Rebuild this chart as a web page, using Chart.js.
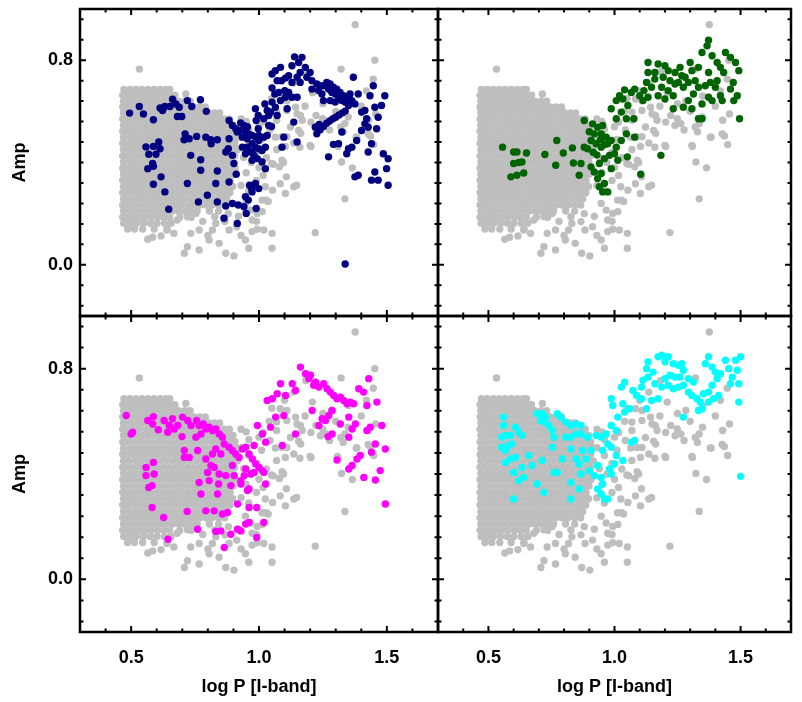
<!DOCTYPE html>
<html>
<head>
<meta charset="utf-8">
<script src="https://cdn.jsdelivr.net/npm/chart.js@4.4.0/dist/chart.umd.min.js"></script>
<style>
  body { margin: 0; background: #ffffff; }
  #wrap { position: relative; width: 802px; height: 702px; }
  #wrap canvas { position: absolute; left: 0; top: 0; }
</style>
</head>
<body>
<div id="wrap">
  <canvas id="panelTL" width="802" height="702"></canvas>
  <canvas id="panelTR" width="802" height="702"></canvas>
  <canvas id="panelBL" width="802" height="702"></canvas>
  <canvas id="panelBR" width="802" height="702"></canvas>
</div>
<script>
// Axis ticks
const xTicksMajor = [0.5, 1.0, 1.5];
const xTicksAll = [0.4, 0.5, 0.6, 0.7, 0.8, 0.9, 1.0, 1.1, 1.2, 1.3, 1.4, 1.5, 1.6];
const yTicksMajor = [0.0, 0.8];
const yTicksAll = [-0.16, -0.08, 0.0, 0.08, 0.16, 0.24, 0.32, 0.40, 0.48, 0.56, 0.64, 0.72, 0.80, 0.88, 0.96];

// All stars (grey), dense part as rows: [amp, [logP values]]
const grayRows = [
    [0.686, [0.472,0.495,0.519,0.543,0.566,0.590,0.614,0.637,0.651]],
    [0.663, [0.467,0.484,0.508,0.531,0.556,0.579,0.602,0.627,0.650,0.671]],
    [0.640, [0.470,0.495,0.518,0.543,0.567,0.591,0.613,0.638,0.661,0.684,0.709,0.731]],
    [0.617, [0.467,0.483,0.507,0.532,0.555,0.578,0.603,0.626,0.650,0.674,0.697,0.720,0.745,0.768,0.790]],
    [0.594, [0.470,0.495,0.519,0.542,0.567,0.590,0.615,0.638,0.661,0.686,0.709,0.733,0.756,0.781,0.803,0.826,0.846]],
    [0.570, [0.467,0.483,0.507,0.531,0.556,0.579,0.602,0.627,0.650,0.673,0.698,0.721,0.745,0.768,0.793,0.816,0.839,0.863,0.884]],
    [0.546, [0.470,0.494,0.519,0.543,0.566,0.591,0.614,0.638,0.662,0.685,0.710,0.733,0.756,0.781,0.804,0.828,0.851,0.876,0.898]],
    [0.522, [0.467,0.483,0.507,0.532,0.555,0.579,0.603,0.626,0.651,0.674,0.697,0.722,0.745,0.769,0.792,0.817,0.840,0.864,0.887,0.906]],
    [0.498, [0.470,0.495,0.518,0.543,0.567,0.590,0.614,0.639,0.662,0.686,0.709,0.733,0.757,0.780,0.805,0.828,0.852,0.875,0.899,0.915]],
    [0.474, [0.467,0.483,0.508,0.531,0.555,0.579,0.602,0.627,0.650,0.674,0.698,0.721,0.746,0.769,0.792,0.816,0.840,0.865,0.887,0.906]],
    [0.450, [0.470,0.494,0.519,0.542,0.567,0.591,0.614,0.638,0.663,0.686,0.709,0.734,0.757,0.781,0.804,0.828,0.852,0.875,0.899,0.916]],
    [0.426, [0.467,0.483,0.507,0.531,0.556,0.579,0.603,0.626,0.650,0.675,0.697,0.721,0.745,0.770,0.793,0.816,0.841,0.864,0.888,0.905]],
    [0.402, [0.470,0.495,0.518,0.543,0.566,0.590,0.615,0.638,0.662,0.686,0.710,0.733,0.757,0.780,0.804,0.829,0.852,0.876,0.898]],
    [0.378, [0.467,0.484,0.507,0.532,0.555,0.579,0.602,0.627,0.650,0.674,0.698,0.722,0.745,0.769,0.793,0.816,0.840,0.864,0.887,0.907]],
    [0.354, [0.470,0.494,0.519,0.543,0.567,0.591,0.614,0.638,0.661,0.686,0.709,0.733,0.757,0.781,0.804,0.828,0.851,0.876,0.899]],
    [0.330, [0.467,0.483,0.507,0.531,0.556,0.578,0.603,0.627,0.650,0.674,0.697,0.721,0.746,0.769,0.792,0.817,0.840,0.863,0.887]],
    [0.306, [0.470,0.495,0.518,0.542,0.567,0.590,0.614,0.639,0.662,0.685,0.710,0.733,0.756,0.781,0.805,0.828,0.852,0.875,0.897]],
    [0.282, [0.467,0.483,0.508,0.531,0.555,0.579,0.602,0.626,0.651,0.674,0.698,0.721,0.745,0.770,0.793,0.816,0.841,0.864,0.886]],
    [0.258, [0.470,0.494,0.519,0.543,0.566,0.591,0.615,0.638,0.662,0.686,0.709,0.734,0.757,0.780,0.804,0.829,0.852,0.874]],
    [0.234, [0.467,0.484,0.507,0.532,0.556,0.579,0.603,0.627,0.650,0.674,0.697,0.722,0.745,0.769,0.793,0.816,0.842,0.866]],
    [0.210, [0.470,0.495,0.518,0.543,0.567,0.590,0.614,0.638,0.662,0.686,0.709,0.733,0.758,0.806,0.842]],
    [0.186, [0.467,0.483,0.507,0.531,0.555,0.579,0.604,0.627,0.650,0.690,0.735]],
    [0.163, [0.471,0.495,0.520,0.548,0.575,0.601,0.630,0.656]],
    [0.140, [0.486,0.513,0.545,0.590,0.641]]
];

// All stars (grey), sparse outskirts: [logP, amp]
const grayScatter = [
    [0.565,0.100],[0.584,0.108],[0.617,0.113],[0.708,0.045],[0.720,0.071],[0.733,0.123],[0.766,0.136],[0.766,0.058],
    [0.805,0.097],[0.818,0.136],[0.831,0.162],[0.844,0.084],[0.870,0.045],[0.883,0.136],[0.902,0.035],[0.947,0.097],
    [0.960,0.065],[0.973,0.130],[0.993,0.139],[1.051,0.123],[1.051,0.065],[0.947,0.240],[0.967,0.214],[0.973,0.175],
    [1.013,0.208],[1.027,0.253],[0.720,0.188],[0.753,0.201],[0.827,0.188],[0.867,0.169],[0.913,0.149],[0.680,0.175],
    [0.640,0.136],[0.667,0.123],[0.780,0.170],[0.880,0.200],[0.920,0.190],[0.990,0.170],[0.930,0.115],[0.800,0.115],
    [0.930,0.570],[0.950,0.560],[0.960,0.530],[0.930,0.500],[0.960,0.470],[0.940,0.420],[0.970,0.400],[0.950,0.360],
    [0.930,0.310],[0.960,0.290],[0.990,0.330],[1.000,0.380],[0.990,0.440],[1.010,0.490],[1.000,0.540],[1.016,0.558],
    [1.043,0.527],[1.069,0.565],[1.089,0.501],[1.109,0.501],[1.069,0.451],[1.029,0.419],[1.016,0.349],[1.053,0.292],
    [1.083,0.317],[1.136,0.305],[1.103,0.279],[1.036,0.248],[1.096,0.400],[1.056,0.393],[1.103,0.463],[1.136,0.476],
    [1.123,0.539],[1.163,0.514],[1.069,0.597],[1.083,0.648],[1.109,0.641],[1.109,0.603],[1.143,0.616],[1.149,0.590],
    [1.169,0.565],[1.203,0.558],[1.223,0.584],[1.249,0.571],[1.263,0.552],[1.276,0.527],[1.209,0.673],[1.283,0.641],
    [1.136,0.711],[1.183,0.755],[1.349,0.578],[1.336,0.552],[1.329,0.520],[1.456,0.590],[1.429,0.565],[1.436,0.504],
    [1.449,0.470],[1.383,0.499],[1.309,0.463],[1.203,0.463],[1.323,0.402],[1.365,0.379],[1.336,0.258],[1.376,0.939],
    [1.453,0.800],[1.447,0.726],[1.321,0.765],[1.220,0.126],[1.064,0.499],[1.090,0.409],[1.049,0.396],[1.025,0.305],
    [1.012,0.253],[0.993,0.201],[1.019,0.136],[1.155,0.525],[1.162,0.584],[1.200,0.467],[1.240,0.545],[1.320,0.539],
    [1.380,0.499],[1.427,0.512],[1.307,0.467],[1.160,0.460],[1.080,0.383],[1.107,0.344],[1.147,0.311],[0.532,0.765],
    [0.714,0.668],[1.040,0.600],[1.050,0.650],[1.100,0.680],[1.180,0.620],[1.250,0.630],[1.300,0.600],[1.350,0.660],
    [1.400,0.620],[1.420,0.680]
];

// Subsample 1 (navy)
const blueStars = [
    [0.494,0.593],[0.532,0.619],[0.548,0.590],[0.587,0.567],[0.613,0.613],[0.632,0.619],[0.623,0.603],[0.662,0.647],
    [0.652,0.619],[0.675,0.629],[0.688,0.616],[0.681,0.580],[0.698,0.580],[0.720,0.642],[0.737,0.619],[0.771,0.645],
    [0.794,0.600],[0.558,0.461],[0.587,0.463],[0.608,0.480],[0.613,0.454],[0.597,0.432],[0.569,0.432],[0.584,0.396],
    [0.565,0.376],[0.587,0.385],[0.617,0.344],[0.587,0.315],[0.632,0.285],[0.647,0.217],[0.711,0.512],[0.727,0.493],
    [0.707,0.489],[0.756,0.502],[0.792,0.499],[0.813,0.473],[0.837,0.489],[0.811,0.489],[0.883,0.493],[0.880,0.454],
    [0.733,0.428],[0.772,0.411],[0.772,0.370],[0.720,0.318],[0.763,0.246],[0.798,0.272],[0.831,0.318],[0.837,0.367],
    [0.870,0.441],[0.896,0.428],[0.902,0.396],[0.911,0.354],[0.883,0.324],[0.837,0.246],[0.870,0.230],[0.863,0.182],
    [0.896,0.240],[0.915,0.162],[0.919,0.234],[0.941,0.227],[0.950,0.201],[0.958,0.253],[0.971,0.298],[0.989,0.220],
    [0.947,0.266],[0.973,0.285],[0.999,0.298],[0.963,0.311],[0.986,0.318],
    [0.883,0.564],[0.896,0.545],[0.909,0.532],[0.922,0.525],[0.941,0.545],[0.947,0.519],[0.960,0.512],[0.973,0.506],
    [0.986,0.499],[0.999,0.506],[1.019,0.499],[1.032,0.506],[0.915,0.519],[0.935,0.499],[0.954,0.493],[0.973,0.473],
    [0.986,0.460],[0.999,0.454],[1.012,0.447],[0.954,0.460],[0.967,0.441],[0.980,0.428],[0.993,0.415],[1.012,0.402],
    [1.025,0.376],[0.973,0.409],[0.935,0.460],[0.947,0.434],[0.999,0.486],[1.025,0.460],[0.973,0.441],[0.928,0.555],
    [0.955,0.540],
    [0.986,0.610],[0.989,0.564],[0.997,0.532],[1.023,0.629],[1.032,0.603],[1.019,0.571],[1.038,0.545],[1.051,0.636],
    [1.064,0.616],[1.071,0.584],[1.049,0.541],[1.090,0.460],[1.097,0.499],[1.110,0.610],[1.136,0.558],[1.149,0.480],
    [1.129,0.655],[1.116,0.674],[1.051,0.746],[1.064,0.759],[1.084,0.772],[1.071,0.720],[1.088,0.720],[1.103,0.730],
    [1.116,0.739],[1.129,0.778],[1.139,0.813],[1.155,0.791],[1.168,0.811],[1.181,0.772],[1.161,0.752],[1.149,0.733],
    [1.129,0.713],[1.161,0.713],[1.187,0.733],[1.200,0.752],[1.207,0.720],[1.226,0.707],[1.239,0.700],[1.252,0.700],
    [1.265,0.713],[1.278,0.707],[1.291,0.694],[1.304,0.687],[1.317,0.674],[1.330,0.661],[1.343,0.649],[1.363,0.642],
    [1.375,0.629],[1.369,0.733],[1.388,0.668],[1.207,0.687],[1.233,0.681],[1.246,0.668],[1.272,0.687],[1.285,0.674],
    [1.298,0.668],[1.311,0.655],[1.324,0.642],[1.337,0.636],[1.350,0.623],[1.252,0.642],[1.278,0.642],[1.298,0.636],
    [1.337,0.655],[1.356,0.668],[1.051,0.691],[1.062,0.668],[1.077,0.674],[1.101,0.681],[1.149,0.655],[1.103,0.655],
    [1.084,0.642],[1.045,0.597],[1.038,0.584],[0.997,0.584],
    [1.226,0.512],[1.239,0.528],[1.252,0.541],[1.265,0.554],[1.276,0.562],[1.289,0.571],[1.300,0.577],[1.313,0.586],
    [1.326,0.594],[1.337,0.601],[1.220,0.538],[1.235,0.549],
    [1.272,0.422],[1.291,0.471],[1.324,0.519],[1.343,0.434],[1.350,0.454],[1.363,0.460],[1.382,0.486],[1.375,0.344],
    [1.388,0.350],[1.401,0.525],[1.414,0.551],[1.421,0.571],[1.427,0.538],[1.440,0.473],[1.427,0.441],[1.460,0.532],
    [1.466,0.577],[1.453,0.616],[1.479,0.623],[1.492,0.661],[1.447,0.700],[1.434,0.661],[1.414,0.603],[1.401,0.597],
    [1.453,0.363],[1.466,0.331],[1.440,0.331],[1.486,0.434],[1.499,0.376],[1.505,0.415],[1.505,0.311],[1.337,0.003],
    [1.311,0.473]
];

// Subsample 2 (dark green)
const greenStars = [
    [0.556,0.460],[0.600,0.441],[0.613,0.441],[0.651,0.437],[0.600,0.396],[0.620,0.400],[0.633,0.402],[0.589,0.344],
    [0.613,0.350],[0.640,0.359],[0.724,0.431],[0.771,0.486],[0.797,0.437],[0.767,0.389],[0.833,0.457],[0.837,0.398],
    [0.867,0.396],[0.860,0.350],[0.880,0.460],[0.893,0.454],[0.880,0.564],[0.913,0.551],[0.933,0.538],[0.953,0.545],
    [0.920,0.512],[0.947,0.512],[0.967,0.499],[0.907,0.486],[0.927,0.473],[0.947,0.460],[0.973,0.473],[0.987,0.486],
    [1.007,0.460],[1.000,0.434],[0.980,0.428],[0.960,0.415],[0.940,0.396],[0.907,0.383],[0.920,0.363],[0.947,0.357],
    [0.933,0.337],[0.960,0.318],[0.953,0.285],[0.973,0.285],[0.940,0.305],[0.987,0.376],[1.013,0.409],[1.027,0.486],
    [1.047,0.512],[1.051,0.422],[1.080,0.499],[1.104,0.354],[1.184,0.428],[1.077,0.571],[1.047,0.571],[1.027,0.597],
    [1.007,0.571],[0.987,0.610],[1.007,0.642],[1.033,0.648],[1.040,0.684],[1.020,0.661],[1.080,0.687],[1.100,0.661],
    [1.113,0.642],[1.127,0.713],[1.147,0.694],[1.133,0.752],[1.133,0.791],[1.173,0.785],[1.160,0.752],[1.193,0.733],
    [1.200,0.778],[1.213,0.759],[1.187,0.694],[1.213,0.681],[1.233,0.661],[1.200,0.648],[1.173,0.661],[1.233,0.610],
    [1.260,0.772],[1.267,0.739],[1.253,0.713],[1.273,0.694],[1.293,0.713],[1.300,0.791],[1.307,0.759],[1.333,0.772],
    [1.320,0.720],[1.333,0.694],[1.313,0.668],[1.293,0.642],[1.273,0.616],[1.307,0.610],[1.333,0.571],[1.347,0.571],
    [1.347,0.629],[1.373,0.655],[1.387,0.642],[1.360,0.700],[1.380,0.713],[1.400,0.694],[1.420,0.661],[1.427,0.642],
    [1.373,0.752],[1.347,0.830],[1.367,0.856],[1.373,0.878],[1.387,0.817],[1.407,0.791],[1.420,0.772],[1.433,0.752],
    [1.440,0.830],[1.460,0.811],[1.480,0.791],[1.493,0.759],[1.471,0.713],[1.460,0.687],[1.487,0.661],[1.473,0.642],
    [1.496,0.571],[1.407,0.720],[1.240,0.707],[1.220,0.720],[1.240,0.752],[1.280,0.733],[1.160,0.726],[1.117,0.681],
    [1.133,0.655],[1.067,0.674],[1.053,0.623],[0.900,0.520],[0.930,0.430],[0.960,0.470],[0.915,0.440],[0.945,0.490]
];

// Subsample 3 (magenta)
const magentaStars = [
    [0.481,0.622],[0.500,0.552],[0.506,0.559],[0.565,0.603],[0.587,0.618],[0.584,0.590],[0.606,0.568],[0.629,0.603],
    [0.649,0.584],[0.662,0.610],[0.643,0.559],[0.669,0.571],[0.682,0.584],[0.699,0.542],[0.701,0.616],[0.721,0.603],
    [0.734,0.584],[0.756,0.603],[0.766,0.584],[0.782,0.590],[0.753,0.540],[0.773,0.552],[0.792,0.571],[0.805,0.578],
    [0.818,0.565],[0.831,0.571],[0.844,0.552],[0.857,0.540],[0.864,0.514],[0.883,0.502],[0.896,0.489],[0.909,0.476],
    [0.922,0.463],[0.935,0.495],[0.948,0.502],[0.961,0.476],[0.974,0.457],[0.987,0.438],[1.000,0.425],[1.019,0.406],
    [1.026,0.362],[0.968,0.400],[0.942,0.394],[0.929,0.362],[0.955,0.337],[0.981,0.508],[0.994,0.584],[1.013,0.552],
    [1.026,0.521],[1.045,0.578],[1.032,0.679],[1.052,0.686],[1.071,0.705],[1.084,0.743],[1.104,0.698],[1.130,0.743],
    [1.143,0.717],[1.162,0.806],[1.182,0.781],[1.195,0.762],[1.201,0.775],[1.214,0.737],[1.221,0.749],[1.234,0.730],
    [1.253,0.743],[1.266,0.724],[1.279,0.711],[1.292,0.698],[1.305,0.686],[1.318,0.692],[1.331,0.679],[1.344,0.667],
    [1.357,0.673],[1.370,0.667],[1.390,0.724],[1.409,0.711],[1.429,0.762],[1.422,0.660],[1.461,0.673],[1.286,0.641],
    [1.273,0.622],[1.260,0.603],[1.247,0.610],[1.208,0.641],[1.234,0.584],[1.270,0.542],[1.286,0.552],[1.318,0.590],
    [1.351,0.616],[1.377,0.590],[1.364,0.571],[1.351,0.540],[1.422,0.565],[1.435,0.578],[1.480,0.584],[1.455,0.514],
    [1.440,0.483],[1.396,0.470],[1.383,0.457],[1.364,0.432],[1.351,0.419],[1.305,0.453],[1.410,0.387],[1.455,0.377],
    [1.474,0.413],[1.494,0.495],[1.494,0.286],[1.091,0.508],[1.143,0.552],[1.097,0.622],[1.065,0.616],
    [0.558,0.425],[0.558,0.394],[0.587,0.444],[0.590,0.400],[0.569,0.349],[0.582,0.356],[0.582,0.273],[0.627,0.235],
    [0.644,0.152],[0.719,0.258],[0.760,0.190],[0.792,0.260],[0.825,0.260],[0.831,0.182],[0.851,0.184],[0.857,0.248],
    [0.877,0.254],[0.890,0.171],[0.916,0.190],[0.929,0.184],[0.948,0.210],[0.961,0.216],[0.864,0.121],[0.991,0.159],
    [1.019,0.216],[0.961,0.273],[0.991,0.273],[0.916,0.286],[0.766,0.368],[0.805,0.375],[0.842,0.362],[0.838,0.324],
    [0.773,0.324],[0.890,0.356],[0.903,0.394],[0.929,0.375],[0.961,0.343],[0.708,0.489],[0.727,0.463],[0.708,0.463],
    [0.760,0.489],[0.792,0.457],[0.812,0.432],[0.825,0.425],[0.844,0.400],[0.870,0.394],[0.799,0.406],[0.818,0.476],
    [0.831,0.495],[0.851,0.476],[0.896,0.432],[0.948,0.419],[0.981,0.406],[1.013,0.413]
];

// Subsample 4 (cyan)
const cyanStars = [
    [0.560,0.616],[0.560,0.584],[0.553,0.540],[0.567,0.546],[0.587,0.546],[0.607,0.578],[0.620,0.559],[0.633,0.546],
    [0.553,0.502],[0.567,0.489],[0.580,0.508],[0.593,0.514],[0.567,0.444],[0.587,0.457],[0.607,0.463],[0.600,0.406],
    [0.633,0.425],[0.660,0.470],[0.673,0.432],[0.640,0.387],[0.620,0.375],[0.600,0.305],[0.693,0.629],[0.713,0.629],
    [0.727,0.616],[0.707,0.603],[0.740,0.584],[0.720,0.597],[0.753,0.565],[0.773,0.629],[0.787,0.616],[0.807,0.597],
    [0.827,0.584],[0.847,0.590],[0.867,0.584],[0.847,0.552],[0.827,0.540],[0.807,0.540],[0.867,0.552],[0.893,0.540],
    [0.927,0.546],[0.947,0.540],[0.967,0.552],[0.760,0.540],[0.753,0.502],[0.713,0.451],[0.693,0.362],[0.720,0.330],
    [0.760,0.406],[0.793,0.457],[0.827,0.495],[0.847,0.457],[0.860,0.438],[0.873,0.489],[0.887,0.457],[0.907,0.489],
    [0.900,0.413],[0.920,0.394],[0.933,0.432],[0.947,0.387],[0.953,0.489],[0.973,0.514],[0.987,0.502],[1.007,0.470],
    [1.000,0.438],[0.980,0.419],[0.987,0.400],[0.953,0.362],[0.933,0.343],[0.947,0.324],[0.960,0.305],[0.973,0.305],
    [0.867,0.400],[0.860,0.343],[0.827,0.368],[0.827,0.305],[0.773,0.406],[1.033,0.451],[1.067,0.521],[1.080,0.527],
    [1.007,0.565],[0.987,0.584],[1.013,0.616],[1.040,0.635],[1.060,0.648],[1.033,0.667],[0.993,0.660],[0.987,0.686],
    [1.040,0.749],[1.027,0.730],[1.073,0.717],[1.087,0.698],[1.107,0.686],[1.127,0.648],[1.113,0.756],[1.133,0.768],
    [1.133,0.826],[1.127,0.800],[1.153,0.787],[1.160,0.743],[1.173,0.845],[1.187,0.851],[1.200,0.826],[1.213,0.845],
    [1.233,0.819],[1.253,0.813],[1.267,0.819],[1.273,0.794],[1.260,0.768],[1.240,0.768],[1.220,0.775],[1.200,0.762],
    [1.187,0.730],[1.213,0.737],[1.233,0.724],[1.253,0.730],[1.273,0.737],[1.293,0.762],[1.313,0.749],[1.293,0.711],
    [1.307,0.698],[1.327,0.686],[1.340,0.673],[1.347,0.648],[1.333,0.641],[1.353,0.705],[1.373,0.711],[1.387,0.737],
    [1.407,0.762],[1.420,0.781],[1.413,0.698],[1.393,0.686],[1.373,0.673],[1.360,0.819],[1.373,0.845],[1.387,0.806],
    [1.400,0.787],[1.440,0.832],[1.453,0.800],[1.467,0.768],[1.460,0.743],[1.480,0.832],[1.500,0.845],[1.487,0.794],
    [1.493,0.743],[1.493,0.673],[1.500,0.391],[1.273,0.616],[1.147,0.679],[1.173,0.686],[1.107,0.730]
];

const PANEL_COLORS = { gray: '#bebebe', blue: '#000080', green: '#006400', magenta: '#ff00ff', cyan: '#00ffff' };

Chart.defaults.font.family = '"Liberation Sans", Arial, Helvetica, sans-serif';
Chart.defaults.font.size = 18;
Chart.defaults.font.weight = 'bold';
Chart.defaults.color = '#000000';

function toPoints(pairs) {
    return pairs.map(p => ({ x: p[0], y: p[1] }));
}

function grayPoints() {
    const pts = [];
    grayRows.forEach(row => row[1].forEach(x => pts.push({ x: x, y: row[0] })));
    return pts.concat(toPoints(grayScatter));
}

function isMajor(list, v) {
    return list.some(m => Math.abs(m - v) < 1e-6);
}

// IDL style frame with inward ticks on all four sides
const framePlugin = {
    id: 'idlFrame',
    afterDatasetsDraw(chart) {
        const { ctx, chartArea: a } = chart;
        const xs = chart.scales.x, ys = chart.scales.y;
        ctx.save();
        ctx.strokeStyle = '#000000';
        ctx.lineWidth = 2;
        xTicksAll.forEach(v => {
            const px = xs.getPixelForValue(v);
            const len = isMajor(xTicksMajor, v) ? 6 : 3.5;
            ctx.beginPath();
            ctx.moveTo(px, a.bottom); ctx.lineTo(px, a.bottom - len);
            ctx.moveTo(px, a.top); ctx.lineTo(px, a.top + len);
            ctx.stroke();
        });
        yTicksAll.forEach(v => {
            const py = ys.getPixelForValue(v);
            const len = isMajor(yTicksMajor, v) ? 6 : 3.5;
            ctx.beginPath();
            ctx.moveTo(a.left, py); ctx.lineTo(a.left + len, py);
            ctx.moveTo(a.right, py); ctx.lineTo(a.right - len, py);
            ctx.stroke();
        });
        ctx.lineWidth = 2.5;
        ctx.strokeRect(a.left, a.top, a.right - a.left, a.bottom - a.top);
        ctx.restore();
    }
};

function makePanel(id, stars, color, padding, showX, showY) {
    const ctx = document.getElementById(id).getContext('2d');
    return new Chart(ctx, {
        type: 'scatter',
        data: {
            datasets: [
                {
                    data: toPoints(stars),
                    backgroundColor: color,
                    pointRadius: 3.7,
                    pointBorderWidth: 0
                },
                {
                    data: grayPoints(),
                    backgroundColor: PANEL_COLORS.gray,
                    pointRadius: 3.7,
                    pointBorderWidth: 0
                }
            ]
        },
        options: {
            responsive: false,
            animation: false,
            events: [],
            layout: { padding: padding, autoPadding: false },
            plugins: { legend: { display: false }, tooltip: { enabled: false } },
            scales: {
                x: {
                    type: 'linear',
                    min: 0.3,
                    max: 1.7,
                    display: showX,
                    grid: { display: false, drawTicks: false },
                    border: { display: false },
                    afterBuildTicks: s => { s.ticks = xTicksAll.map(v => ({ value: v })); },
                    afterFit: s => { s.height = showX ? 70 : 0; s.paddingLeft = 0; s.paddingRight = 0; },
                    ticks: {
                        autoSkip: false,
                        maxRotation: 0,
                        padding: 15,
                        callback: v => isMajor(xTicksMajor, v) ? v.toFixed(1) : ''
                    },
                    title: { display: true, text: 'log P [I-band]', padding: { top: 0, bottom: 4 } }
                },
                y: {
                    type: 'linear',
                    min: -0.2,
                    max: 1.0,
                    display: showY,
                    grid: { display: false, drawTicks: false },
                    border: { display: false },
                    afterBuildTicks: s => { s.ticks = yTicksAll.map(v => ({ value: v })); },
                    afterFit: s => { s.width = showY ? 80 : 0; s.paddingTop = 0; s.paddingBottom = 0; },
                    ticks: {
                        autoSkip: false,
                        padding: 7,
                        callback: v => isMajor(yTicksMajor, v) ? v.toFixed(1) : ''
                    },
                    title: { display: true, text: 'Amp', padding: { top: 9, bottom: 0 } }
                }
            }
        },
        plugins: [framePlugin]
    });
}

makePanel('panelTL', blueStars, PANEL_COLORS.blue, { left: 0, top: 9, right: 364, bottom: 386 }, false, true);
makePanel('panelTR', greenStars, PANEL_COLORS.green, { left: 438, top: 9, right: 11, bottom: 386 }, false, false);
makePanel('panelBL', magentaStars, PANEL_COLORS.magenta, { left: 0, top: 316, right: 364, bottom: 0 }, true, true);
makePanel('panelBR', cyanStars, PANEL_COLORS.cyan, { left: 438, top: 316, right: 11, bottom: 0 }, true, false);
</script>
</body>
</html>
